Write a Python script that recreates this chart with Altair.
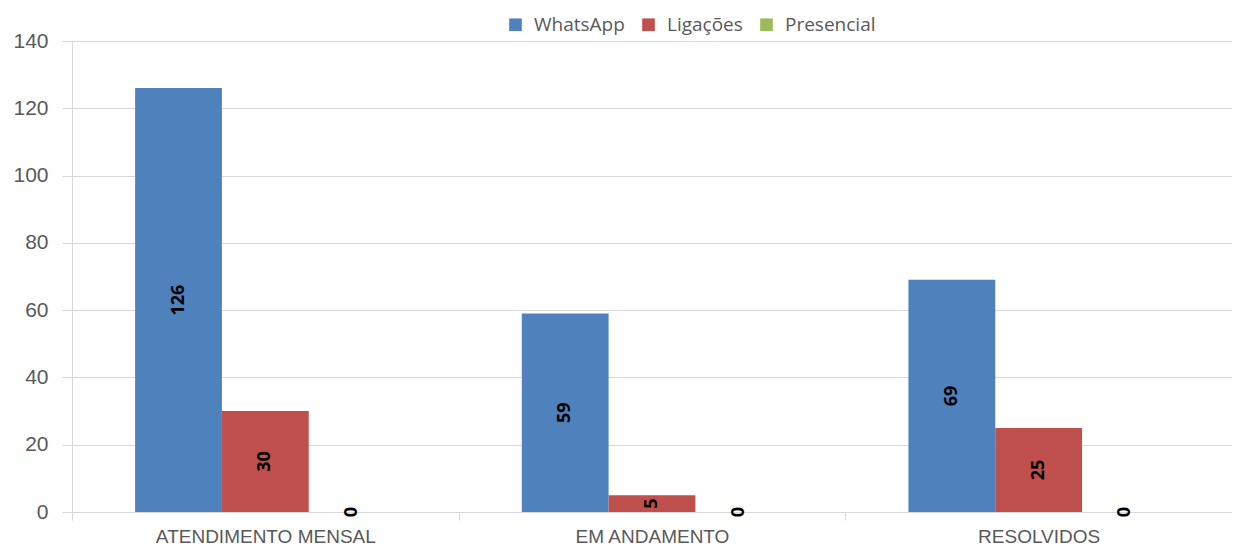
import altair as alt
import pandas as pd

categories = ["ATENDIMENTO MENSAL", "EM ANDAMENTO", "RESOLVIDOS"]
series = ["WhatsApp", "Ligações", "Presencial"]
whatsapp = [126, 59, 69]
ligacoes = [30, 5, 25]
presencial = [0, 0, 0]
colors = ["#4F81BD", "#C0504D", "#9BBB59"]

rows = []
for i, c in enumerate(categories):
    for s, vals in zip(series, [whatsapp, ligacoes, presencial]):
        rows.append({"cat": c, "serie": s, "valor": vals[i]})
df = pd.DataFrame(rows)

x = alt.X("cat:N", sort=categories, title=None,
          scale=alt.Scale(paddingInner=0, paddingOuter=0),
          axis=alt.Axis(labelAngle=0, tickBand="extent", tickSize=8, tickColor="#D9D9D9",
                        domainColor="#D9D9D9", labelFont="Liberation Sans", labelFontSize=19,
                        labelColor="#595959", labelPadding=7, labelLimit=0))
xo = alt.XOffset("serie:N", sort=series, scale=alt.Scale(paddingOuter=0.727, paddingInner=0))

base = alt.Chart(df)
bars = base.mark_bar().encode(
    x=x, xOffset=xo,
    y=alt.Y("valor:Q", title=None,
            scale=alt.Scale(domain=[0, 140], nice=False),
            axis=alt.Axis(values=[0, 20, 40, 60, 80, 100, 120, 140], tickSize=10,
                          tickColor="#D9D9D9", domainColor="#D9D9D9", gridColor="#D9D9D9",
                          labelFont="Liberation Sans", labelFontSize=21, labelColor="#595959",
                          labelPadding=14)),
    color=alt.Color("serie:N", sort=series,
                    scale=alt.Scale(domain=series, range=colors),
                    legend=alt.Legend(title=None, orient="none", direction="horizontal",
                                      legendX=434, legendY=-26, symbolType="square",
                                      symbolSize=160, symbolStrokeWidth=0, symbolOpacity=1,
                                      labelFont="Open Sans", labelFontSize=19,
                                      labelColor="#595959", columnPadding=14, labelOffset=9)),
)
labels = base.transform_calculate(mid="datum.valor / 2").mark_text(
    angle=270, fontWeight="bold", fontSize=18, font="Open Sans", color="black",
    align="center", baseline="middle"
).encode(
    x=alt.X("cat:N", sort=categories), xOffset=xo,
    y=alt.Y("mid:Q"),
    text=alt.Text("valor:Q"),
)

chart = (bars + labels).properties(
    width=1160, height=471,
    autosize=alt.AutoSizeParams(type="none"),
    padding={"left": 64, "top": 33, "right": 0, "bottom": 34},
).configure_view(stroke=None).configure_axis(grid=True).configure_axisX(grid=False)

chart.save("out.html", embed_options={"renderer": "svg", "actions": False})
